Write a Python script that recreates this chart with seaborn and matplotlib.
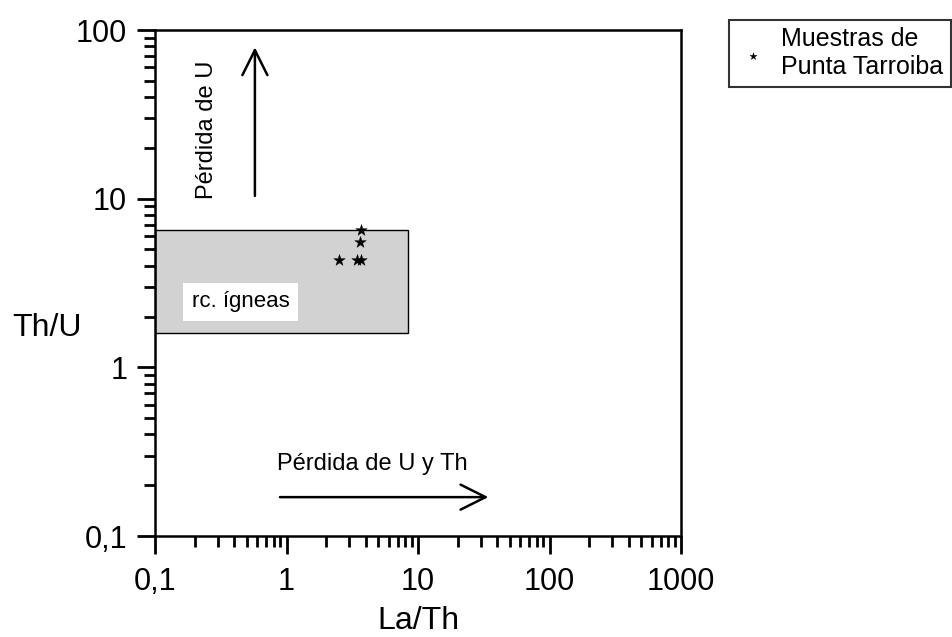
import matplotlib
matplotlib.use("Agg")
import matplotlib.pyplot as plt
import seaborn as sns
import pandas as pd
from matplotlib.patches import Rectangle
from matplotlib.ticker import FixedLocator, LogLocator, NullFormatter

# Data
la_th = [3.7, 3.65, 2.5, 3.45, 3.7]
th_u = [6.5, 5.5, 4.35, 4.35, 4.35]
box_x = [0.1, 8.4]
box_y = [1.6, 6.5]
x_ticks = [0.1, 1, 10, 100, 1000]
x_labels = ["0,1", "1", "10", "100", "1000"]
y_ticks = [0.1, 1, 10, 100]
y_labels = ["0,1", "1", "10", "100"]

df = pd.DataFrame({"La/Th": la_th, "Th/U": th_u})

sns.set_theme(style="white")
plt.rcParams['font.family'] = ['Liberation Sans', 'DejaVu Sans']
plt.rcParams['text.color'] = 'black'
plt.rcParams['axes.labelcolor'] = 'black'
plt.rcParams['xtick.color'] = 'black'
plt.rcParams['ytick.color'] = 'black'

fig = plt.figure(figsize=(9.53, 6.37), dpi=100)
ax = fig.add_axes([155/953, 1-536/637, (681-155)/953, (536-30)/637])
ax.set_xscale("log")
ax.set_yscale("log")
ax.set_xlim(0.1, 1000)
ax.set_ylim(0.1, 100)

ax.add_patch(Rectangle((box_x[0], box_y[0]), box_x[1]-box_x[0], box_y[1]-box_y[0],
                       facecolor="#d2d2d2", edgecolor="black", linewidth=1.0, zorder=1))

sns.scatterplot(data=df, x="La/Th", y="Th/U", marker="*", s=75, color="black",
                edgecolor="black", linewidth=0.3, ax=ax, zorder=3, label="Muestras de\nPunta Tarroiba")

ax.text(0.19, 2.45, "rc. ígneas", fontsize=16, va="center", ha="left", color="black",
        bbox=dict(facecolor="white", edgecolor="none", pad=6), zorder=4)

# arrows
ax.annotate("", xy=(0.575, 82), xytext=(0.575, 10),
            arrowprops=dict(arrowstyle="->", color="black", lw=1.8, mutation_scale=45))
ax.text(0.25, 25.5, "Pérdida de U", rotation=90, fontsize=17, ha="center", va="center")
ax.annotate("", xy=(36, 0.17), xytext=(0.85, 0.17),
            arrowprops=dict(arrowstyle="->", color="black", lw=1.8, mutation_scale=45))
ax.text(0.85, 0.267, "Pérdida de U y Th", fontsize=17, ha="left", va="center")

ax.xaxis.set_major_locator(FixedLocator(x_ticks))
ax.set_xticklabels(x_labels)
ax.yaxis.set_major_locator(FixedLocator(y_ticks))
ax.set_yticklabels(y_labels)
ax.xaxis.set_minor_locator(LogLocator(base=10, subs=range(2, 10), numticks=20))
ax.yaxis.set_minor_locator(LogLocator(base=10, subs=range(2, 10), numticks=20))
ax.xaxis.set_minor_formatter(NullFormatter())
ax.yaxis.set_minor_formatter(NullFormatter())
ax.tick_params(which="major", direction="out", length=13, width=2, labelsize=22,
               bottom=True, left=True, top=False, right=False, color="black")
ax.tick_params(axis="x", which="major", pad=9)
ax.tick_params(axis="y", which="major", pad=7)
ax.tick_params(which="minor", direction="out", length=8, width=2,
               bottom=True, left=True, top=False, right=False, color="black")
for s in ax.spines.values():
    s.set_color("black")
    s.set_linewidth(1.8)

ax.set_xlabel("La/Th", fontsize=23)
ax.xaxis.set_label_coords(0.5, -0.139)
ax.set_ylabel("Th/U", fontsize=23, rotation=0, va="center", ha="center")
ax.yaxis.set_label_coords(-0.205, 0.412)

leg = ax.legend(loc="upper left", bbox_to_anchor=(729/953, 1-20/637), bbox_transform=fig.transFigure,
                fontsize=18, frameon=True, fancybox=False, handletextpad=0.5, borderpad=0.3,
                labelspacing=0.0, handlelength=1.3, markerscale=0.6, borderaxespad=0)
leg.get_frame().set_edgecolor("black")
leg.get_frame().set_linewidth(1.5)

fig.savefig("out.png", dpi=100)
